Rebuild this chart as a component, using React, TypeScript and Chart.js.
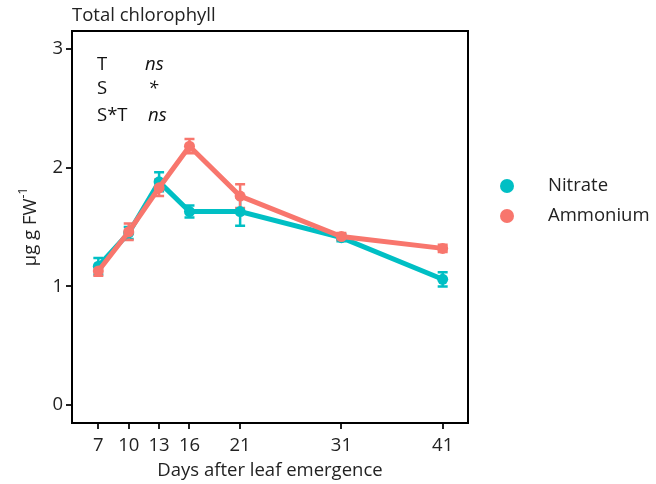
import React, { useEffect, useRef } from "react";
import { Chart, registerables } from "chart.js";

Chart.register(...registerables);

const days = [7, 10, 13, 16, 21, 31, 41];
const nitrate = [1.17, 1.45, 1.88, 1.63, 1.63, 1.41, 1.06];
const nitrateErr = [0.07, 0.05, 0.08, 0.05, 0.12, 0.03, 0.06];
const ammonium = [1.13, 1.46, 1.83, 2.18, 1.76, 1.42, 1.32];
const ammoniumErr = [0.04, 0.07, 0.07, 0.06, 0.1, 0.03, 0.03];
const yTicks = [0, 1, 2, 3];
const seriesNames = ["Nitrate", "Ammonium"];
const seriesColors = ["#00BFC4", "#F8766D"];
const statLabels = ["T", "S", "S*T"];
const statValues = ["ns", "*", "ns"];
const chartTitle = "Total chlorophyll";
const xTitle = "Days after leaf emergence";

const FONT = "'Open Sans', Lato, sans-serif";
const FS = 18.5;

const customPlugin = {
  id: "custom",
  beforeDatasetsDraw(chart: any) {
    const { ctx } = chart;
    const xs = chart.scales.x;
    const ys = chart.scales.y;
    const errs = [nitrateErr, ammoniumErr];
    chart.data.datasets.forEach((ds: any, di: number) => {
      ctx.save();
      ctx.strokeStyle = seriesColors[di];
      ctx.lineWidth = 2.5;
      ds.data.forEach((p: any, i: number) => {
        const x = xs.getPixelForValue(p.x);
        const y1 = ys.getPixelForValue(p.y + errs[di][i]);
        const y2 = ys.getPixelForValue(p.y - errs[di][i]);
        ctx.beginPath();
        ctx.moveTo(x, y1);
        ctx.lineTo(x, y2);
        ctx.moveTo(x - 5, y1);
        ctx.lineTo(x + 5, y1);
        ctx.moveTo(x - 5, y2);
        ctx.lineTo(x + 5, y2);
        ctx.stroke();
      });
      ctx.restore();
    });
  },
  afterDraw(chart: any) {
    const { ctx, chartArea } = chart;
    ctx.save();
    ctx.strokeStyle = "#000";
    ctx.lineWidth = 2;
    ctx.strokeRect(
      chartArea.left,
      chartArea.top,
      chartArea.right - chartArea.left,
      chartArea.bottom - chartArea.top
    );
    ctx.fillStyle = "#222";
    ctx.font = `${FS}px ${FONT}`;
    ctx.textAlign = "left";
    ctx.textBaseline = "alphabetic";
    ctx.fillText(chartTitle, chartArea.left, 21);
    ctx.textBaseline = "middle";
    const rowsY = [65, 89, 116];
    const valX = [145, 148, 148];
    statLabels.forEach((t, i) => {
      ctx.font = `${FS}px ${FONT}`;
      ctx.fillStyle = "#111";
      ctx.fillText(t, 97, rowsY[i]);
      ctx.font = `italic ${FS}px ${FONT}`;
      ctx.fillText(statValues[i], valX[i], rowsY[i]);
    });
    ctx.save();
    ctx.translate(31, (chartArea.top + chartArea.bottom) / 2);
    ctx.rotate(-Math.PI / 2);
    ctx.font = `${FS}px ${FONT}`;
    const main = "\u03bcg g FW";
    const sup = "-1";
    const wMain = ctx.measureText(main).width;
    ctx.font = `12px ${FONT}`;
    const wSup = ctx.measureText(sup).width;
    const start = -(wMain + wSup) / 2;
    ctx.textAlign = "left";
    ctx.textBaseline = "middle";
    ctx.fillStyle = "#222";
    ctx.font = `${FS}px ${FONT}`;
    ctx.fillText(main, start, 0);
    ctx.font = `12px ${FONT}`;
    ctx.fillText(sup, start + wMain, -7);
    ctx.restore();
    seriesNames.forEach((name, i) => {
      const y = 186 + i * 30;
      ctx.beginPath();
      ctx.fillStyle = seriesColors[i];
      ctx.arc(507, y, 7, 0, Math.PI * 2);
      ctx.fill();
      ctx.fillStyle = "#222";
      ctx.font = `${FS}px ${FONT}`;
      ctx.textAlign = "left";
      ctx.textBaseline = "middle";
      ctx.fillText(name, 548, y);
    });
    ctx.restore();
  },
};

export default function App() {
  const ref = useRef<HTMLCanvasElement | null>(null);
  useEffect(() => {
    if (!ref.current) return;
    const chart = new Chart(ref.current, {
      type: "line",
      data: {
        datasets: [
          {
            label: seriesNames[0],
            data: days.map((d, i) => ({ x: d, y: nitrate[i] })),
            borderColor: seriesColors[0],
            backgroundColor: seriesColors[0],
            borderWidth: 5,
            pointRadius: 5.5,
            pointBorderWidth: 0,
            order: 1,
          },
          {
            label: seriesNames[1],
            data: days.map((d, i) => ({ x: d, y: ammonium[i] })),
            borderColor: seriesColors[1],
            backgroundColor: seriesColors[1],
            borderWidth: 5,
            pointRadius: 5.5,
            pointBorderWidth: 0,
            order: 0,
          },
        ],
      },
      options: {
        animation: false,
        responsive: false,
        layout: { padding: { left: 0, top: 31, right: 188, bottom: 0 } },
        plugins: { legend: { display: false }, tooltip: { enabled: false } },
        scales: {
          x: {
            type: "linear",
            min: 4.4,
            max: 43.5,
            afterBuildTicks: (s: any) => {
              s.ticks = days.map((v) => ({ value: v }));
            },
            afterFit: (s: any) => {
              s.height = 61;
            },
            grid: {
              drawOnChartArea: false,
              drawTicks: true,
              tickLength: 6,
              color: "#222",
              lineWidth: 2,
            },
            border: { display: false },
            ticks: {
              color: "#222",
              font: { family: FONT, size: FS },
              padding: 6,
              maxRotation: 0,
              autoSkip: false,
            },
            title: {
              display: true,
              text: xTitle,
              color: "#222",
              font: { family: FONT, size: FS },
              padding: { top: 0, bottom: 2 },
            },
          },
          y: {
            type: "linear",
            min: -0.15,
            max: 3.15,
            afterBuildTicks: (s: any) => {
              s.ticks = yTicks.map((v) => ({ value: v }));
            },
            afterFit: (s: any) => {
              s.width = 72;
            },
            grid: {
              drawOnChartArea: false,
              drawTicks: true,
              tickLength: 6,
              color: "#222",
              lineWidth: 2,
            },
            border: { display: false },
            ticks: {
              color: "#222",
              font: { family: FONT, size: FS },
              padding: 3,
            },
          },
        },
      },
      plugins: [customPlugin],
    });
    return () => chart.destroy();
  }, []);
  return (
    <div style={{ position: "fixed", left: 0, top: 0, width: 656, height: 484, background: "#fff" }}>
      <canvas ref={ref} width={656} height={484} />
    </div>
  );
}
